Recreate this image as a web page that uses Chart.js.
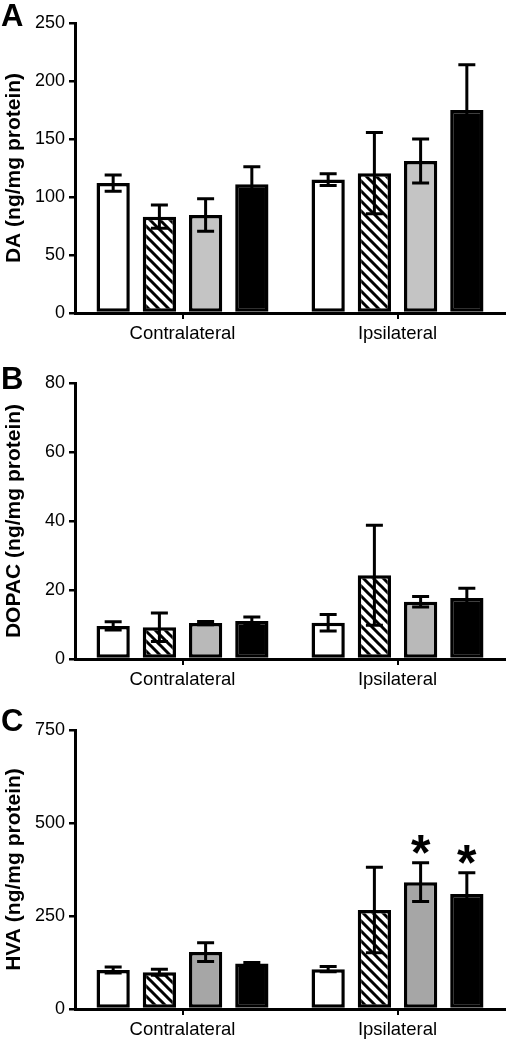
<!DOCTYPE html>
<html>
<head>
<meta charset="utf-8">
<script src="https://cdn.jsdelivr.net/npm/chart.js@4.4.1/dist/chart.umd.min.js"></script>
<style>
  body { margin:0; background:#fff; width:518px; height:1040px; position:relative; overflow:hidden;
         font-family:'Liberation Sans', Arial, sans-serif; }
  .panel { position:absolute; left:0; width:518px; }
  .letter { position:absolute; left:1px; font-weight:bold; font-size:31px; line-height:1; color:#000; }
</style>
</head>
<body>
<div class="panel" style="top:0;height:345px"><canvas id="chartA"></canvas></div>
<div class="panel" style="top:345px;height:345px"><canvas id="chartB"></canvas></div>
<div class="panel" style="top:690px;height:350px"><canvas id="chartC"></canvas></div>
<div class="letter" style="top:0px">A</div>
<div class="letter" style="top:363px">B</div>
<div class="letter" style="top:705px">C</div>
<script>
// Dopamine + metabolites, contralateral vs ipsilateral, mean ± SEM
const categories = ['Contralateral', 'Ipsilateral'];
const groups = ['Group 1', 'Group 2', 'Group 3', 'Group 4'];

// one inner array per group: [contralateral, ipsilateral]
const daMean = [[112, 115], [83, 120.5], [84.5, 131], [111, 175]];
const daSem  = [[7, 5], [10, 35], [14, 19], [15, 39]];

const dopacMean = [[9.6, 10.5], [9.2, 24.3], [10.4, 16.6], [11, 17.7]];
const dopacSem  = [[1.2, 2.4], [4.1, 14.5], [0.5, 1.5], [1.2, 2.8]];

const hvaMean = [[105, 107], [99, 266], [153, 341], [122, 309]];
const hvaSem  = [[8, 7], [8, 115], [25, 52], [3, 57]];
const hvaStars = [[false, false], [false, false], [false, true], [false, true]];

const FONT = "'Liberation Sans', Arial, Helvetica, sans-serif";

function hatch(){
  const n = 10;
  const c = document.createElement('canvas');
  c.width = c.height = n;
  const g = c.getContext('2d');
  g.fillStyle = '#fff'; g.fillRect(0, 0, n, n);
  g.strokeStyle = '#000'; g.lineWidth = 3; g.lineCap = 'square';
  g.beginPath();
  g.moveTo(-2, -2); g.lineTo(n + 2, n + 2);
  g.moveTo(-2, n - 2); g.lineTo(2, n + 2);
  g.moveTo(n - 2, -2); g.lineTo(n + 2, 2);
  g.stroke();
  return g.createPattern(c, 'repeat');
}

const errorBars = {
  id: 'errorBars',
  afterDatasetsDraw(chart, args, opts){
    const ctx = chart.ctx, y = chart.scales.y;
    ctx.save();
    ctx.strokeStyle = '#000'; ctx.lineWidth = 3;
    chart.data.datasets.forEach((ds, i) => {
      const meta = chart.getDatasetMeta(i);
      meta.data.forEach((bar, j) => {
        const m = ds.data[j], s = opts.sem[i][j];
        const top = y.getPixelForValue(m + s), bot = y.getPixelForValue(m - s);
        ctx.beginPath();
        ctx.moveTo(bar.x, top); ctx.lineTo(bar.x, bot);
        ctx.moveTo(bar.x - 8.5, top); ctx.lineTo(bar.x + 8.5, top);
        ctx.moveTo(bar.x - 8.5, bot); ctx.lineTo(bar.x + 8.5, bot);
        ctx.stroke();
        if(opts.stars && opts.stars[i][j]){
          ctx.fillStyle = '#000';
          ctx.font = 'bold 50px ' + FONT;
          ctx.textAlign = 'center';
          ctx.textBaseline = 'alphabetic';
          ctx.fillText('*', bar.x, top + 7);
        }
      });
    });
    ctx.restore();
  }
};

function makeChart(id, yTitle, means, sems, stars, max, step, gray, padTop, xHeight){
  const fills = ['#fff', hatch(), gray, '#000'];
  const datasets = groups.map((g, i) => ({
    label: g,
    data: means[i],
    backgroundColor: fills[i],
    borderColor: '#000',
    borderWidth: 3.5,
    borderSkipped: false,
    categoryPercentage: 0.86,
    barPercentage: 0.72,
  }));
  return new Chart(document.getElementById(id), {
    type: 'bar',
    data: { labels: categories, datasets },
    plugins: [errorBars],
    options: {
      responsive: true, maintainAspectRatio: false, animation: false,
      layout: { padding: { top: padTop, right: 13, left: 0, bottom: 0 } },
      plugins: {
        legend: { display: false }, tooltip: { enabled: false },
        errorBars: { sem: sems, stars },
      },
      scales: {
        x: {
          grid: { offset: false, drawOnChartArea: false, tickLength: 6, color: '#000', lineWidth: 2 },
          border: { display: true, color: '#000', width: 3 },
          ticks: { color: '#000', padding: 4, font: { family: FONT, size: 18.5 } },
          afterFit: (s) => { s.height = xHeight; },
        },
        y: {
          min: 0, max,
          grid: { drawOnChartArea: false, tickLength: 6, color: '#000', lineWidth: 2.5 },
          border: { display: true, color: '#000', width: 3 },
          ticks: { stepSize: step, color: '#000', padding: 4, font: { family: FONT, size: 18 } },
          title: { display: true, text: yTitle, color: '#000', padding: { top: 2, bottom: 2 },
                   font: { family: FONT, size: 21, weight: 'bold' } },
          afterFit: (s) => { s.width = 75; },
        },
      },
    },
  });
}

makeChart('chartA', 'DA (ng/mg protein)', daMean, daSem, null, 250, 50, '#c4c4c4', 23, 32);
makeChart('chartB', 'DOPAC (ng/mg protein)', dopacMean, dopacSem, null, 80, 20, '#b9b9b9', 38, 31);
makeChart('chartC', 'HVA (ng/mg protein)', hvaMean, hvaSem, hvaStars, 750, 250, '#a6a6a6', 40, 31);
</script>
</body>
</html>
